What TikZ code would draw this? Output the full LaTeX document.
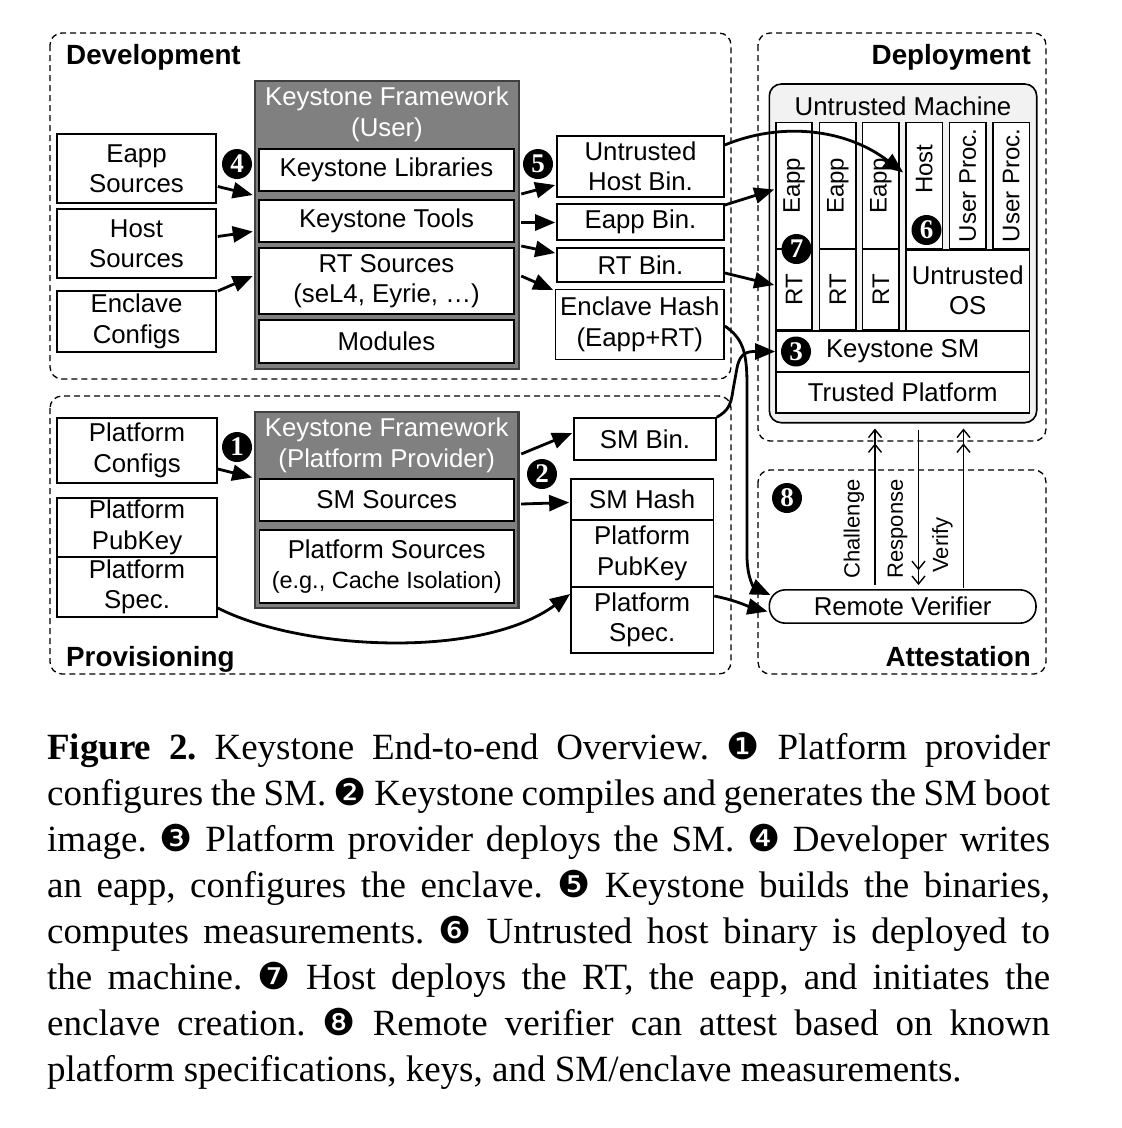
\documentclass[tikz,border=0pt]{standalone}
\usepackage{fontspec}
\setmainfont{Liberation Serif}
\setsansfont{Liberation Sans}
\newfontfamily\dingfont{DejaVu Sans}[Scale=1.0]
\usetikzlibrary{arrows.meta,calc}
\newcommand\diagfont{\sffamily\fontsize{25.8}{30.5}\selectfont}
\newcommand\colfont{\sffamily\fontsize{24}{28}\selectfont}
\newcommand\smallfont{\sffamily\fontsize{23.5}{28}\selectfont}
\begin{document}
\begin{tikzpicture}[x=1pt,y=-1pt,
  every node/.style={font=\diagfont},
  box/.style={draw=black, line width=1.6pt, fill=white, inner sep=0pt, align=center},
  colbox/.style={box, rotate=90, font=\colfont},
  region/.style={draw=black, line width=1.3pt, dash pattern=on 6pt off 4pt, rounded corners=12pt},
  gbox/.style={draw=black!75, line width=2.5pt, fill=black!50, inner sep=0pt},
  gtitle/.style={text=white, inner sep=0pt, align=center},
  arr/.style={line width=2.8pt, -{Triangle[length=20pt,width=16pt]}},
  tarr/.style={line width=1.4pt, -{Straight Barb[length=8pt,width=13pt,sep=5pt]Straight Barb[length=8pt,width=13pt]}},
  mk/.style={circle, fill=black, text=white, inner sep=0pt, minimum size=30pt, font=\rmfamily\bfseries\fontsize{27}{27}\selectfont},
  rlabel/.style={font=\sffamily\bfseries\fontsize{27.8}{30}\selectfont, inner sep=0pt},
  vlabel/.style={rotate=90, inner sep=0pt, font=\sffamily\fontsize{22}{26}\selectfont},
]
\useasboundingbox (0,0) rectangle (1122,1128);

% regions
\draw[region] (50,33) rectangle (731,379);
\draw[region] (758,33) rectangle (1046,441);
\draw[region] (50,396) rectangle (731,674);
\draw[region] (758,470) rectangle (1046,674);
\node[rlabel, anchor=base west] (devlab) at (66,64) {Development};
\node[rlabel, anchor=base east] (deplab) at (1031,64) {Deployment};
\node[rlabel, anchor=base west] (provlab) at (66,666) {Provisioning};
\node[rlabel, anchor=base east] (attlab) at (1031,666) {Attestation};

% Development
\node[box, minimum width=159pt, minimum height=69pt] (eappsrc) at (136.5,168.5) {Eapp\\Sources};
\node[box, minimum width=159pt, minimum height=69pt] (hostsrc) at (136.5,243.5) {Host\\Sources};
\node[box, minimum width=159pt, minimum height=61pt] (enclcfg) at (136.5,321.5) {Enclave\\Configs};

\node[gbox, minimum width=264pt, minimum height=288pt] (kfu) at (387,225) {};
\node[gtitle] (kfutitle) at (387,114.5) {Keystone Framework\\(User)};
\node[box, minimum width=255pt, minimum height=42pt] (libs) at (386.5,170) {Keystone Libraries};
\node[box, minimum width=255pt, minimum height=42pt] (tools) at (386.5,221) {Keystone Tools};
\node[box, minimum width=255pt, minimum height=66pt] (rtsrc) at (386.5,281) {RT Sources\\(seL4, Eyrie, …)};
\node[box, minimum width=255pt, minimum height=43pt] (modules) at (386.5,341.5) {Modules};

\node[box, minimum width=167pt, minimum height=61pt] (uhbin) at (640.5,166.5) {Untrusted\\Host Bin.};
\node[box, minimum width=167pt, minimum height=36pt] (eappbin) at (640.5,222) {Eapp Bin.};
\node[box, minimum width=167pt, minimum height=34pt] (rtbin) at (640.5,265) {RT Bin.};
\node[box, minimum width=168.4pt, minimum height=70pt] (enchash) at (639.8,324.3) {Enclave Hash\\(Eapp+RT)};

% Provisioning
\node[box, minimum width=160pt, minimum height=65pt] (platcfg) at (137,450.5) {Platform\\Configs};
\node[box, minimum width=160pt, minimum height=59pt] (platpub) at (137,527.5) {Platform\\PubKey};
\node[box, minimum width=160pt, minimum height=60pt] (platspec) at (137,587) {Platform\\Spec.};

\node[gbox, minimum width=263.5pt, minimum height=196pt] (kfp) at (386.7,510) {};
\node[gtitle] (kfptitle) at (386.7,445.5) {Keystone Framework\\(Platform Provider)};
\node[box, minimum width=254.5pt, minimum height=42pt] (smsrc) at (386.7,500) {SM Sources};
\node[box, minimum width=254.5pt, minimum height=73pt] (platsrc) at (386.7,566.5) {Platform Sources\\{\smallfont (e.g., Cache Isolation)}};

\node[box, minimum width=142pt, minimum height=42pt] (smbin) at (645,439) {SM Bin.};
\node[box, minimum width=142.5pt, minimum height=41pt] (smhash) at (642.2,499.5) {SM Hash};
\node[box, minimum width=142.5pt, minimum height=67pt] (pubkey2) at (642.2,553.5) {Platform\\PubKey};
\node[box, minimum width=142.5pt, minimum height=66pt] (spec2) at (642.2,620) {Platform\\Spec.};

% Deployment
\node[draw=black, line width=1.6pt, fill=black!5, rounded corners=12pt, minimum width=267.4pt, minimum height=338.7pt, inner sep=0pt] (um) at (903,253.35) {};
\node[inner sep=0pt] (umlab) at (903,106) {Untrusted Machine};
\node[colbox, minimum width=126.5pt, minimum height=36pt] (eapp1) at (794,185.75) {Eapp};
\node[colbox, minimum width=81pt, minimum height=36pt] (rt1) at (794,289.5) {RT};
\node[colbox, minimum width=126.5pt, minimum height=36.5pt] (eapp2) at (837.75,185.75) {Eapp};
\node[colbox, minimum width=81pt, minimum height=36.5pt] (rt2) at (837.75,289.5) {RT};
\node[colbox, minimum width=126.5pt, minimum height=36.5pt] (eapp3) at (880.75,185.75) {Eapp};
\node[colbox, minimum width=81pt, minimum height=36.5pt] (rt3) at (880.75,289.5) {RT};
\node[colbox, minimum width=126pt, minimum height=36.5pt] (host) at (924.25,185.5) {};
\node[rotate=90, inner sep=0pt, font=\colfont] (hostlab) at (924.25,169) {Host};
\node[colbox, minimum width=126pt, minimum height=36.5pt] (up1) at (967.75,185.5) {User Proc.};
\node[colbox, minimum width=126pt, minimum height=36.5pt] (up2) at (1011.25,185.5) {User Proc.};
\node[box, minimum width=123.5pt, minimum height=81pt] (uos) at (967.75,290.5) {Untrusted\\OS};
\node[box, minimum width=253.5pt, minimum height=40.5pt] (ksm) at (902.75,351.5) {Keystone SM};
\node[box, minimum width=253.5pt, minimum height=41pt] (tp) at (902.75,392.5) {Trusted Platform};

% Attestation
\node[box, rounded corners=16pt, minimum width=266.7pt, minimum height=33.3pt] (rv) at (902.65,606.5) {Remote Verifier};
\node[vlabel] (chl) at (854,529) {Challenge};
\node[vlabel] (rsp) at (897.5,529) {Response};
\node[vlabel] (vfy) at (942.5,545) {Verify};
\draw[tarr] ($(rv.north)+(-27.65,-4)$) -- ($(um.south)+(-28,5)$);
\draw[tarr] ($(um.south)+(15.5,6)$) -- ($(rv.north)+(15.85,-4)$);
\draw[tarr] ($(rv.north)+(60.85,-1)$) -- ($(um.south)+(60.5,5)$);

% arrows development
\draw[arr] ($(eappsrc.east)+(1,18)$) -- ($(kfu.west)+(-1,-30)$);
\draw[arr] ($(hostsrc.east)+(1,-7)$) -- ($(kfu.west)+(-1,6.5)$);
\draw[arr] ($(enclcfg.east)+(1,-30.5)$) -- ($(kfu.west)+(-1,51)$);
\draw[arr] ($(kfu.east)+(1,-31)$) -- ($(uhbin.west)+(-1,18.5)$);
\draw[arr] ($(kfu.east)+(1,-2.5)$) -- ($(eappbin.west)+(-1,0.5)$);
\draw[arr] ($(kfu.east)+(1,21)$) -- ($(rtbin.west)+(-1,-12)$);
\draw[arr] ($(kfu.east)+(1,51)$) -- ($(enchash.west)+(-1.6,-34.3)$);

% arrows into deployment
\draw[arr] ($(uhbin.east)+(0,-21.5)$) .. controls (780,122) and (845,128) .. ($(host.north)+(-2,-13)$);
\draw[arr] ($(eappbin.east)+(0,-17)$) -- ($(eapp1.north)+(-1,3.75)$);
\draw[arr] ($(rtbin.east)+(0,8)$) -- ($(rt1.north)+(-1,-4.5)$);
\draw[arr] ($(enchash.east)+(0,1.7)$) .. controls (742,338) and (747,350) .. (747,385) -- (747,555) .. controls (747,580) and (755,588) .. ($(rv.west)+(2,-11.5)$);
\draw[arr] (smbin.north east) .. controls (728,411) and (731,405) .. (733,390) -- (737,368) .. controls (740,352) and (748,351.5) .. (ksm.west);
\draw[arr] ($(spec2.east)+(0,-24)$) .. controls (735,600) and (750,607) .. ($(rv.west)+(-1,5)$);

% arrows provisioning
\draw[arr] ($(platcfg.east)+(0,18.5)$) -- ($(kfp.west)+(-1.5,-32.5)$);
\draw[arr] ($(kfp.east)+(1.5,-56)$) -- ($(smbin.west)+(-1,-6)$);
\draw[arr] ($(kfp.east)+(1.5,-6)$) -- ($(smhash.west)+(-1,3)$);
\draw[arr] ($(platspec.east)+(0,21)$) .. controls (300,650) and (480,660) .. ($(spec2.west)+(0,-26)$);

% markers
\node[mk] (m4) at (237,164) {4};
\node[mk] (m5) at (538,164) {5};
\node[mk] (m1) at (237,447) {1};
\node[mk] (m2) at (542,474) {2};
\node[mk] (m8) at (787,498) {8};
\node[mk] (m3) at (796,351.5) {3};
\node[mk] (m7) at (796.5,249) {7};
\node[mk] (m6) at (926.5,230) {6};

% caption
\node[anchor=north west, inner sep=0pt, text width=1003pt, align=justify, font=\rmfamily\fontsize{37}{46}\selectfont\frenchspacing] (cap) at (47,732)
{\textbf{Figure 2.} Keystone End-to-end Overview. {\dingfont ❶} Platform provider\linebreak
configures the SM. {\dingfont ❷} Keystone compiles and generates the SM boot\linebreak
image. {\dingfont ❸} Platform provider deploys the SM. {\dingfont ❹} Developer writes\linebreak
an eapp, configures the enclave. {\dingfont ❺} Keystone builds the binaries,\linebreak
computes measurements. {\dingfont ❻} Untrusted host binary is deployed to\linebreak
the machine. {\dingfont ❼} Host deploys the RT, the eapp, and initiates the\linebreak
enclave creation. {\dingfont ❽} Remote verifier can attest based on known\linebreak
platform specifications, keys, and SM/enclave measurements.};
\end{tikzpicture}
\end{document}
